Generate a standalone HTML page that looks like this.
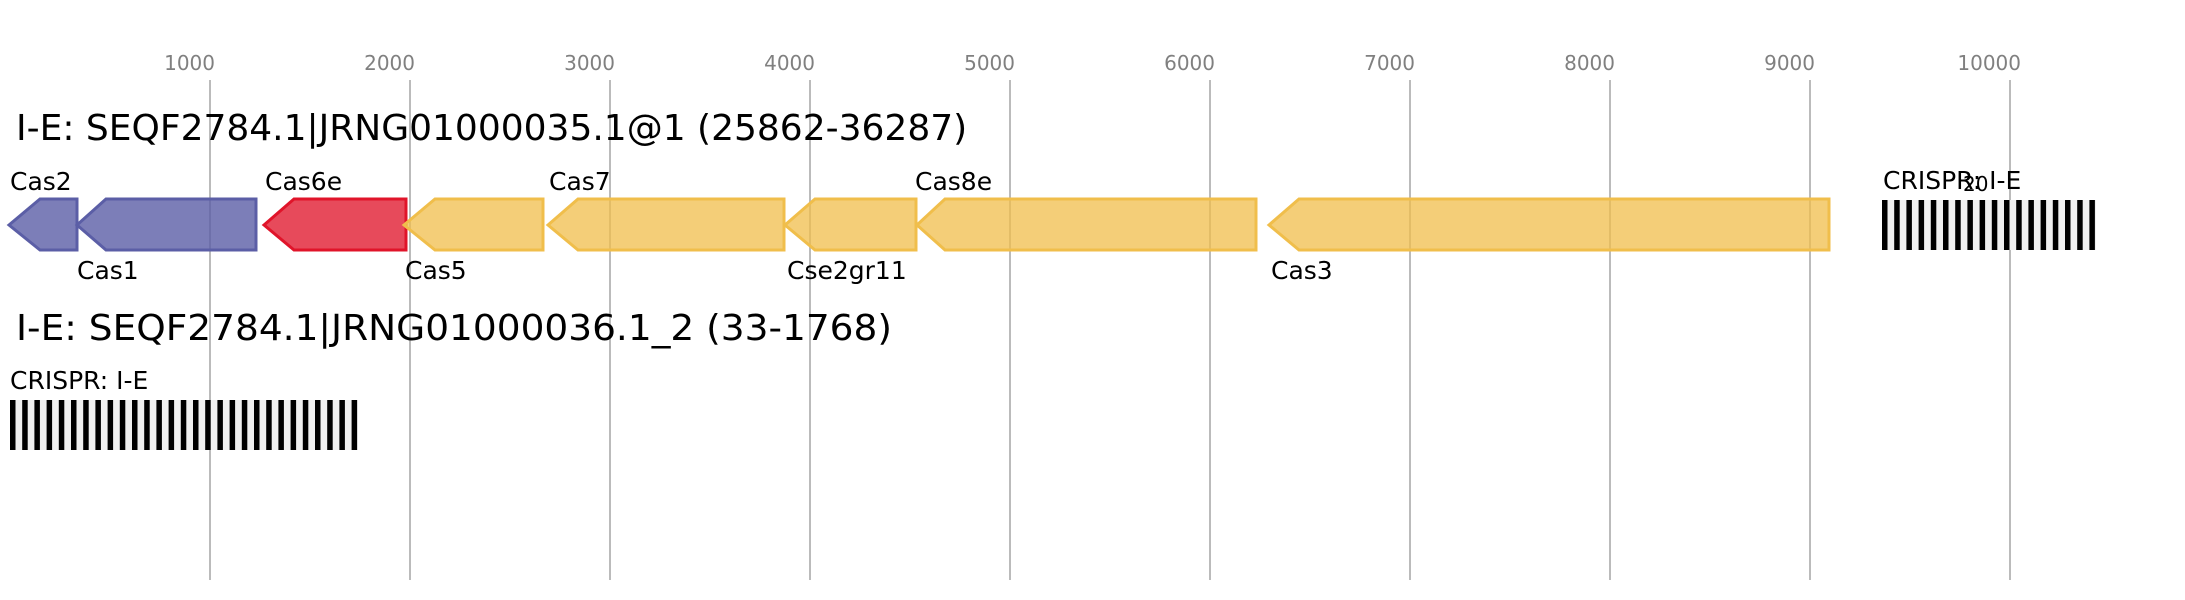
<!DOCTYPE html>
<html><head><meta charset="utf-8"><style>html,body{margin:0;padding:0;background:#fff}svg{display:block}</style></head>
<body>
<svg width="2185" height="600" xmlns="http://www.w3.org/2000/svg" font-family="'DejaVu Sans','Liberation Sans',sans-serif">
<rect width="2185" height="600" fill="#fff"/>
<g stroke="#bbbbbb" stroke-width="2">
<line x1="210" y1="80" x2="210" y2="580"/><line x1="410" y1="80" x2="410" y2="580"/><line x1="610" y1="80" x2="610" y2="580"/><line x1="810" y1="80" x2="810" y2="580"/><line x1="1010" y1="80" x2="1010" y2="580"/><line x1="1210" y1="80" x2="1210" y2="580"/><line x1="1410" y1="80" x2="1410" y2="580"/><line x1="1610" y1="80" x2="1610" y2="580"/><line x1="1810" y1="80" x2="1810" y2="580"/><line x1="2010" y1="80" x2="2010" y2="580"/>
</g>
<g fill="#808080" font-size="20" text-anchor="end">
<text x="215" y="70">1000</text><text x="415" y="70">2000</text><text x="615" y="70">3000</text><text x="815" y="70">4000</text><text x="1015" y="70">5000</text><text x="1215" y="70">6000</text><text x="1415" y="70">7000</text><text x="1615" y="70">8000</text><text x="1815" y="70">9000</text><text x="2021" y="70">10000</text>
</g>
<text x="16" y="140" font-size="36" fill="#000">I-E: SEQF2784.1|JRNG01000035.1@1 (25862-36287)</text>
<g stroke-width="3" stroke-linejoin="miter">
<polygon points="9,225 40,199 77,199 77,250 40,250" fill="#5b5ea6" fill-opacity="0.8" stroke="#5b5ea6"/>
<polygon points="77,225 106,199 256,199 256,250 106,250" fill="#5b5ea6" fill-opacity="0.8" stroke="#5b5ea6"/>
<polygon points="264,225 294,199 406,199 406,250 294,250" fill="#e0142a" fill-opacity="0.77" stroke="#e0142a"/>
<polygon points="404,225 435,199 543,199 543,250 435,250" fill="#f0be4b" fill-opacity="0.75" stroke="#f0be4b"/>
<polygon points="548,225 578,199 784,199 784,250 578,250" fill="#f0be4b" fill-opacity="0.75" stroke="#f0be4b"/>
<polygon points="785,225 815,199 916,199 916,250 815,250" fill="#f0be4b" fill-opacity="0.75" stroke="#f0be4b"/>
<polygon points="917,225 945,199 1256,199 1256,250 945,250" fill="#f0be4b" fill-opacity="0.75" stroke="#f0be4b"/>
<polygon points="1269,225 1299,199 1829,199 1829,250 1299,250" fill="#f0be4b" fill-opacity="0.75" stroke="#f0be4b"/>
</g>
<g font-size="25" fill="#000">
<text x="10" y="190">Cas2</text><text x="77" y="279">Cas1</text><text x="265" y="190">Cas6e</text><text x="405" y="279">Cas5</text><text x="549" y="190">Cas7</text><text x="787" y="279">Cse2gr11</text><text x="915" y="190">Cas8e</text><text x="1271" y="279">Cas3</text>
<text x="1883" y="189">CRISPR: I-E</text><text x="1963" y="191" font-size="20">20</text>
</g>
<rect x="1882" y="200" width="214" height="50" fill="#f0f0f0"/>
<g fill="#000" id="c1">
<rect x="1882" y="200" width="5.5" height="50"/><rect x="1894.2" y="200" width="5.5" height="50"/><rect x="1906.4" y="200" width="5.5" height="50"/><rect x="1918.6" y="200" width="5.5" height="50"/><rect x="1930.8" y="200" width="5.5" height="50"/><rect x="1943" y="200" width="5.5" height="50"/><rect x="1955.2" y="200" width="5.5" height="50"/><rect x="1967.4" y="200" width="5.5" height="50"/><rect x="1979.6" y="200" width="5.5" height="50"/><rect x="1991.8" y="200" width="5.5" height="50"/><rect x="2004" y="200" width="5.5" height="50"/><rect x="2016.2" y="200" width="5.5" height="50"/><rect x="2028.4" y="200" width="5.5" height="50"/><rect x="2040.6" y="200" width="5.5" height="50"/><rect x="2052.8" y="200" width="5.5" height="50"/><rect x="2065" y="200" width="5.5" height="50"/><rect x="2077.2" y="200" width="5.5" height="50"/><rect x="2089.4" y="200" width="5.5" height="50"/>
</g>
<text x="16" y="340" font-size="36" fill="#000" textLength="876" lengthAdjust="spacingAndGlyphs">I-E: SEQF2784.1|JRNG01000036.1_2 (33-1768)</text>
<text x="10" y="389" font-size="25" fill="#000">CRISPR: I-E</text>
<rect x="10" y="400" width="348" height="50" fill="#f0f0f0"/>
<g fill="#000">
<rect x="10" y="400" width="5.5" height="50"/><rect x="22.2" y="400" width="5.5" height="50"/><rect x="34.4" y="400" width="5.5" height="50"/><rect x="46.6" y="400" width="5.5" height="50"/><rect x="58.8" y="400" width="5.5" height="50"/><rect x="71" y="400" width="5.5" height="50"/><rect x="83.2" y="400" width="5.5" height="50"/><rect x="95.4" y="400" width="5.5" height="50"/><rect x="107.6" y="400" width="5.5" height="50"/><rect x="119.8" y="400" width="5.5" height="50"/><rect x="132" y="400" width="5.5" height="50"/><rect x="144.2" y="400" width="5.5" height="50"/><rect x="156.4" y="400" width="5.5" height="50"/><rect x="168.6" y="400" width="5.5" height="50"/><rect x="180.8" y="400" width="5.5" height="50"/><rect x="193" y="400" width="5.5" height="50"/><rect x="205.2" y="400" width="5.5" height="50"/><rect x="217.4" y="400" width="5.5" height="50"/><rect x="229.6" y="400" width="5.5" height="50"/><rect x="241.8" y="400" width="5.5" height="50"/><rect x="254" y="400" width="5.5" height="50"/><rect x="266.2" y="400" width="5.5" height="50"/><rect x="278.4" y="400" width="5.5" height="50"/><rect x="290.6" y="400" width="5.5" height="50"/><rect x="302.8" y="400" width="5.5" height="50"/><rect x="315" y="400" width="5.5" height="50"/><rect x="327.2" y="400" width="5.5" height="50"/><rect x="339.4" y="400" width="5.5" height="50"/><rect x="351.6" y="400" width="5.5" height="50"/>
</g>
</svg>
</body></html>
